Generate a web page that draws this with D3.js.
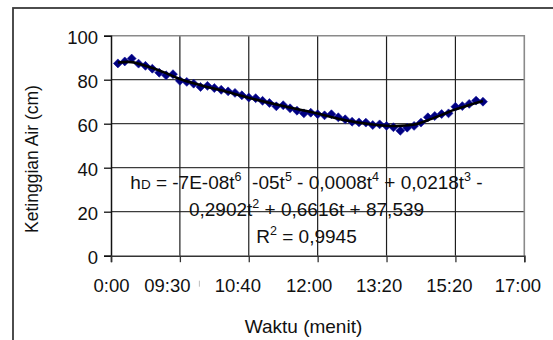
<!DOCTYPE html>
<html>
<head>
<meta charset="utf-8">
<script src="https://cdn.jsdelivr.net/npm/d3@7"></script>
<style>
  html, body { margin: 0; padding: 0; background: #fff; }
  svg { display: block; font-family: "Liberation Sans", Arial, sans-serif; }
</style>
</head>
<body>
<svg id="chart" width="553" height="340"></svg>
<script>
// ---- data ----
const xTickLabels = ["0:00", "09:30", "10:40", "12:00", "13:20", "15:20", "17:00"];
const yTicks = [0, 20, 40, 60, 80, 100];
// measured water height (cm) for successive samples 1..54
const heightValues = [
  87.4, 88.3, 89.6, 87.3, 86.3, 85.0, 83.2, 82.0, 82.5, 79.5,
  79.0, 78.2, 76.7, 77.2, 76.2, 75.4, 74.7, 74.0, 72.9, 71.9,
  71.6, 70.4, 69.4, 67.9, 68.4, 67.0, 65.9, 64.7, 65.0, 64.3,
  63.8, 64.3, 62.9, 62.0, 60.9, 60.6, 60.5, 59.4, 59.7, 59.0,
  58.4, 56.8, 58.2, 59.0, 60.5, 62.9, 63.5, 64.4, 64.7, 67.7,
  68.0, 69.0, 70.5, 70.0
];
// polynomial trend line
const trendT = [1, 3, 5, 8, 10, 13, 16, 20, 25, 30, 34, 38, 40, 42, 44, 46, 48, 50, 52, 54];
const trendH = [87.8, 88.0, 86.3, 83.0, 80.3, 77.5, 75.2, 71.8, 68.0, 64.6, 61.6, 59.6, 59.1, 59.0, 59.6, 61.6, 64.0, 66.5, 68.5, 70.3];

const svg = d3.select("#chart");
const plot = { left: 111, top: 35.7, right: 524.3, bottom: 255.7 };

// outer chart frame (extends past the picture on right/bottom)
svg.append("rect")
  .attr("x", 13).attr("y", 8).attr("width", 700).attr("height", 500)
  .attr("fill", "none").attr("stroke", "#3a3a3a").attr("stroke-width", 1.8);

const x = d3.scaleLinear().domain([0, 60]).range([plot.left, plot.right]);
const y = d3.scaleLinear().domain([0, 100]).range([plot.bottom, plot.top]);
const xTickVals = xTickLabels.map((d, i) => i * 10);

// gridlines
const g = svg.append("g");
g.selectAll(".hgrid").data(yTicks.filter(v => v > 0 && v < 100)).enter().append("line")
  .attr("x1", plot.left).attr("x2", plot.right)
  .attr("y1", d => y(d)).attr("y2", d => y(d))
  .attr("stroke", "#3c3c3c").attr("stroke-width", 1.2);
g.selectAll(".vgrid").data(xTickVals.filter(v => v > 0 && v < 60)).enter().append("line")
  .attr("x1", d => x(d)).attr("x2", d => x(d))
  .attr("y1", plot.top).attr("y2", plot.bottom)
  .attr("stroke", "#1e1e1e").attr("stroke-width", 1.2);

// plot area border top/right
svg.append("path")
  .attr("d", `M${plot.left},${plot.top}H${plot.right}V${plot.bottom}`)
  .attr("fill", "none").attr("stroke", "#8a8a8a").attr("stroke-width", 1.6);

// axes
const yAxis = d3.axisLeft(y).tickValues(yTicks).tickSize(7).tickFormat(d3.format("d")).tickPadding(6);
const yg = svg.append("g").attr("transform", `translate(${plot.left},0)`).call(yAxis);
yg.select(".domain").attr("stroke", "#111").attr("stroke-width", 1.5);
yg.selectAll(".tick line").attr("stroke", "#111").attr("stroke-width", 1.3);
yg.selectAll(".tick text").attr("font-size", 18.5).attr("fill", "#111")
  .attr("font-family", "Liberation Sans, Arial, sans-serif").attr("dy", "0.4em");

const labelShift = [0, -13, -11.5, -9, -8, -6.5, -7];
const xAxis = d3.axisBottom(x).tickValues(xTickVals).tickSize(6.5)
  .tickFormat((d, i) => xTickLabels[i]).tickPadding(17);
const xg = svg.append("g").attr("transform", `translate(0,${plot.bottom})`).call(xAxis);
xg.select(".domain").attr("stroke", "#333").attr("stroke-width", 1.6);
xg.selectAll(".tick line").attr("stroke", "#333").attr("stroke-width", 1.3);
xg.selectAll(".tick text").attr("font-size", 18.5).attr("fill", "#111")
  .attr("font-family", "Liberation Sans, Arial, sans-serif")
  .attr("dx", (d, i) => labelShift[i]);
// faint stray mark next to 09:30 label seen in the reference
xg.selectAll(".tick").filter((d, i) => i === 1).append("line")
  .attr("x1", 19).attr("x2", 19).attr("y1", 25).attr("y2", 31)
  .attr("stroke", "#bdbdbd").attr("stroke-width", 1);

// equation text (drawn before the data, grid crosses it)
function eqLine(yPos, parts) {
  const t = svg.append("text").attr("x", 306.5).attr("y", yPos)
    .attr("text-anchor", "middle").attr("font-size", 19).attr("fill", "#111");
  let pending = 0;
  parts.forEach(p => {
    let ts;
    if (p.sup) {
      ts = t.append("tspan").attr("font-size", 12.5).attr("dy", pending - 7.5).text(p.sup);
      pending = 7.5;
    } else if (p.small) {
      ts = t.append("tspan").attr("font-size", 13.5).attr("dy", pending).text(p.small);
      pending = 0;
    } else {
      ts = t.append("tspan").attr("dy", pending).text(p.t);
      pending = 0;
    }
  });
  return t;
}
eqLine(188.5, [
  {t: "h"}, {small: "D"}, {t: "\u00a0= -7E-08t"}, {sup: "6"}, {t: "\u00a0\u00a0-05t"}, {sup: "5"},
  {t: "\u00a0- 0,0008t"}, {sup: "4"}, {t: "\u00a0+ 0,0218t"}, {sup: "3"}, {t: "\u00a0-"}
]);
eqLine(215.7, [{t: "0,2902t"}, {sup: "2"}, {t: "\u00a0+ 0,6616t + 87,539"}]);
eqLine(242.5, [{t: "R"}, {sup: "2"}, {t: "\u00a0= 0,9945"}]);

// data markers
const diamond = d3.symbol().type(d3.symbolSquare).size(40);
svg.append("g").selectAll("path").data(heightValues).enter().append("path")
  .attr("d", diamond)
  .attr("transform", (d, i) => `translate(${x(i + 1)},${y(d)}) rotate(45)`)
  .attr("fill", "#000080").attr("stroke", "#10109a").attr("stroke-width", 0.6);

// trend line
const line = d3.line().x(d => x(d[0])).y(d => y(d[1])).curve(d3.curveCatmullRom);
svg.append("path").datum(trendT.map((t, i) => [t, trendH[i]]))
  .attr("d", line).attr("fill", "none").attr("stroke", "#000").attr("stroke-width", 2.6);

// axis titles
svg.append("text").attr("x", 303.5).attr("y", 333)
  .attr("text-anchor", "middle").attr("font-size", 19).attr("fill", "#111")
  .text("Waktu (menit)");
svg.append("text").attr("transform", "translate(38,159) rotate(-90)")
  .attr("text-anchor", "middle").attr("font-size", 17.5).attr("fill", "#111")
  .text("Ketinggian Air (cm)");
</script>
</body>
</html>
